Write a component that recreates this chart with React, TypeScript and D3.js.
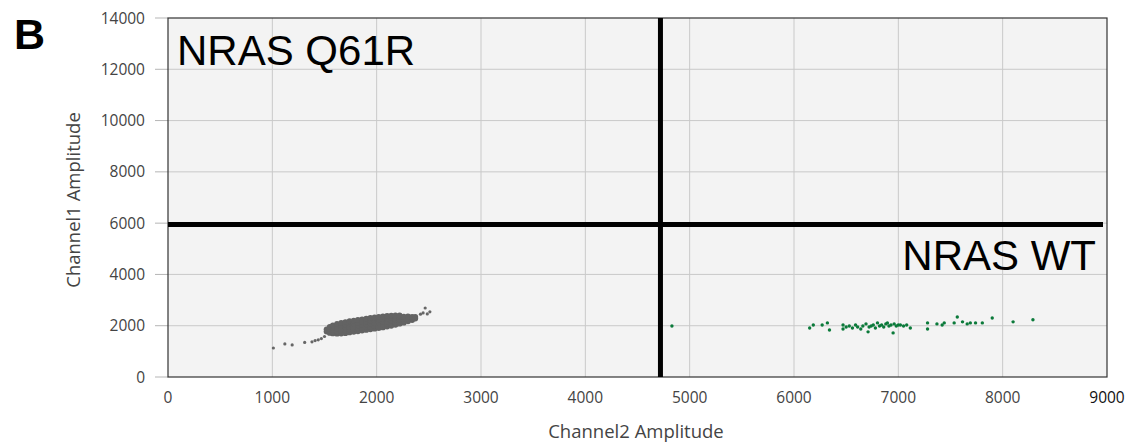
import React from "react";
import * as d3 from "d3";

const xTicks = [0, 1000, 2000, 3000, 4000, 5000, 6000, 7000, 8000, 9000];
const yTicks = [0, 2000, 4000, 6000, 8000, 10000, 12000, 14000];
const thresholdX = 4720;
const thresholdY = 5950;

// Gray (Q61R) outlier droplets: [Channel2, Channel1]
const grayOutliers: [number, number][] = [
  [1010, 1130], [1120, 1290], [1190, 1250], [1310, 1350], [1380, 1370], [1410, 1420],
  [1440, 1450], [1470, 1500], [1500, 1580],
  [2420, 2450], [2445, 2500], [2465, 2690], [2485, 2460], [2510, 2540],
];

// Gray (Q61R) dense cluster droplets: [Channel2, Channel1]
const grayCluster: [number, number][] = [
  [1520, 1770], [1520, 1860],
  [1550, 1720], [1550, 1800], [1550, 1880], [1550, 1950],
  [1580, 1700], [1580, 1780], [1580, 1860], [1580, 1940], [1580, 2010],
  [1620, 1690], [1620, 1785], [1620, 1885], [1620, 1985], [1620, 2070],
  [1660, 1695], [1660, 1800], [1660, 1905], [1660, 2010], [1660, 2110],
  [1700, 1710], [1700, 1820], [1700, 1930], [1700, 2040], [1700, 2140],
  [1740, 1740], [1740, 1850], [1740, 1960], [1740, 2070], [1740, 2175],
  [1780, 1760], [1780, 1870], [1780, 1980], [1780, 2090], [1780, 2200],
  [1820, 1785], [1820, 1895], [1820, 2005], [1820, 2115], [1820, 2225],
  [1860, 1810], [1860, 1920], [1860, 2030], [1860, 2140], [1860, 2250],
  [1900, 1835], [1900, 1945], [1900, 2055], [1900, 2165], [1900, 2275],
  [1940, 1860], [1940, 1970], [1940, 2080], [1940, 2190], [1940, 2300],
  [1980, 1885], [1980, 1995], [1980, 2105], [1980, 2215], [1980, 2320],
  [2020, 1910], [2020, 2020], [2020, 2130], [2020, 2240], [2020, 2340],
  [2060, 1935], [2060, 2045], [2060, 2150], [2060, 2260], [2060, 2360],
  [2100, 1965], [2100, 2070], [2100, 2175], [2100, 2280], [2100, 2380],
  [2140, 1995], [2140, 2095], [2140, 2200], [2140, 2300], [2140, 2395],
  [2180, 2035], [2180, 2130], [2180, 2220], [2180, 2315], [2180, 2400],
  [2220, 2080], [2220, 2165], [2220, 2250], [2220, 2335], [2220, 2405],
  [2260, 2120], [2260, 2200], [2260, 2275], [2260, 2350],
  [2300, 2170], [2300, 2240], [2300, 2300], [2300, 2365],
  [2340, 2220], [2340, 2280], [2340, 2340],
  [2370, 2280], [2370, 2340],
];

// Green (WT) droplets: [Channel2, Channel1]
const greenPoints: [number, number][] = [
  [4830, 1990], [6150, 1910], [6185, 2030], [6270, 2030], [6320, 2110], [6340, 1830],
  [6470, 2030], [6470, 1870], [6500, 1950], [6530, 1990], [6560, 1910], [6590, 2030],
  [6610, 1950], [6640, 1870], [6660, 1990], [6690, 2070], [6710, 1760], [6720, 1950],
  [6740, 1990], [6760, 2030], [6780, 1910], [6800, 2110], [6820, 1990], [6840, 2030],
  [6860, 1950], [6880, 2070], [6895, 2110], [6910, 1990], [6930, 2030], [6950, 1720],
  [6960, 2070], [6980, 1990], [7000, 2030], [7020, 2030], [7050, 1990], [7080, 2030],
  [7115, 1910], [7280, 2110], [7280, 1870], [7370, 2070], [7420, 2030], [7440, 2110],
  [7535, 2110], [7565, 2340], [7615, 2150], [7660, 2070], [7690, 2110], [7740, 2110],
  [7805, 2110], [7900, 2300], [8100, 2150], [8290, 2230],
];

export default function App() {
  const W = 1126;
  const H = 443;
  const left = 168;
  const right = 1107;
  const top = 18;
  const bottom = 377;

  const x = d3.scaleLinear().domain([0, 9000]).range([left, right]);
  const y = d3.scaleLinear().domain([0, 14000]).range([bottom, top]);

  const tickFont = "'Open Sans', 'DejaVu Sans', sans-serif";

  return (
    <svg
      width={W}
      height={H}
      style={{ position: "absolute", left: 0, top: 0, background: "#fff" }}
    >
      <rect x={left} y={top} width={right - left} height={bottom - top} fill="#f3f3f3" />
      {xTicks.slice(1, -1).map((t) => (
        <line key={"gx" + t} x1={x(t)} x2={x(t)} y1={top} y2={bottom} stroke="#c9c9c9" strokeWidth={1} />
      ))}
      {yTicks.slice(1, -1).map((t) => (
        <line key={"gy" + t} x1={left} x2={right} y1={y(t)} y2={y(t)} stroke="#c9c9c9" strokeWidth={1} />
      ))}
      {yTicks.map((t) => (
        <line key={"ty" + t} x1={left - 13} x2={left} y1={y(t)} y2={y(t)} stroke="#b5b5b5" strokeWidth={1} />
      ))}
      <rect x={left} y={top} width={right - left} height={bottom - top} fill="none" stroke="#333" strokeWidth={1.2} />

      {grayOutliers.map(([a, b], i) => (
        <circle key={"go" + i} cx={x(a)} cy={y(b)} r={1.6} fill="#666" />
      ))}
      {grayCluster.map(([a, b], i) => (
        <circle key={"gc" + i} cx={x(a)} cy={y(b)} r={2.9} fill="#636363" />
      ))}
      {greenPoints.map(([a, b], i) => (
        <circle key={"w" + i} cx={x(a)} cy={y(b)} r={1.7} fill="#0b7a3a" />
      ))}

      <line x1={x(thresholdX)} x2={x(thresholdX)} y1={top} y2={bottom} stroke="#000" strokeWidth={5} />
      <line x1={left} x2={right - 4} y1={y(thresholdY)} y2={y(thresholdY)} stroke="#000" strokeWidth={5} />

      {yTicks.map((t) => (
        <text key={"ly" + t} x={145} y={y(t)} dy="0.36em" textAnchor="end" fontFamily={tickFont} fontSize={15.5} fill="#444">
          {t}
        </text>
      ))}
      {xTicks.map((t) => (
        <text
          key={"lx" + t}
          x={x(t)}
          y={403}
          textAnchor="middle"
          fontFamily={tickFont}
          fontSize={15.5}
          fill={t === 9000 ? "#111" : "#444"}
        >
          {t}
        </text>
      ))}

      <text x={636} y={438} textAnchor="middle" fontFamily={tickFont} fontSize={18.5} fill="#444">
        Channel2 Amplitude
      </text>
      <text
        transform={`translate(80, 200) rotate(-90)`}
        textAnchor="middle"
        fontFamily={tickFont}
        fontSize={18.5}
        fill="#444"
      >
        Channel1 Amplitude
      </text>

      <text x={177} y={65} fontFamily="'Liberation Sans', Arial, sans-serif" fontSize={42} fill="#000">
        NRAS Q61R
      </text>
      <text x={1096} y={270} textAnchor="end" fontFamily="'Liberation Sans', Arial, sans-serif" fontSize={42} fill="#000">
        NRAS WT
      </text>
      <text x={14} y={49} fontFamily="'Liberation Sans', Arial, sans-serif" fontSize={43} fontWeight="bold" fill="#000">
        B
      </text>
    </svg>
  );
}
